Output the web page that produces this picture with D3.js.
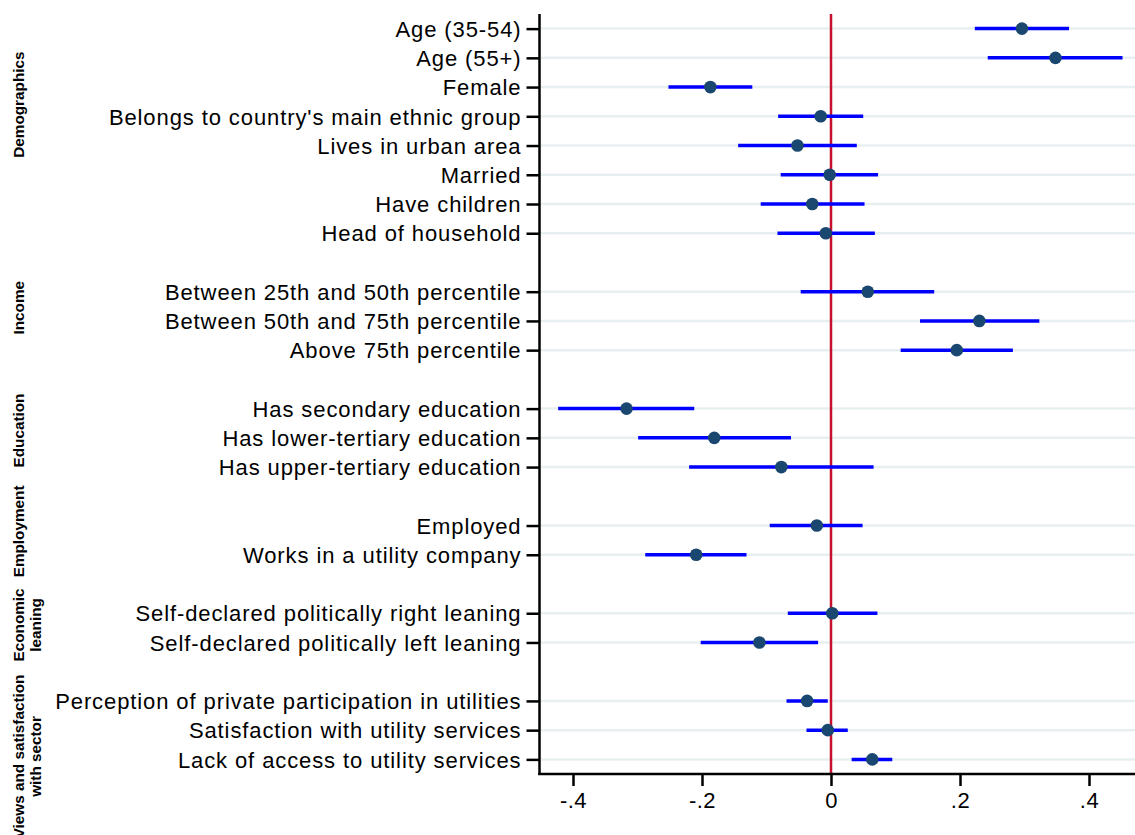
<!DOCTYPE html>
<html>
<head>
<meta charset="utf-8">
<script src="https://cdn.jsdelivr.net/npm/d3@7"></script>
<style>
  html, body { margin: 0; padding: 0; background: #ffffff; }
  svg { display: block; }
  text { font-family: "Liberation Sans", Arial, sans-serif; fill: #000; }
</style>
</head>
<body>
<svg id="chart" width="1135" height="835"></svg>
<script>
// Coefficient labels, top to bottom
const labels = [
  "Age (35-54)",
  "Age (55+)",
  "Female",
  "Belongs to country's main ethnic group",
  "Lives in urban area",
  "Married",
  "Have children",
  "Head of household",
  "Between 25th and 50th percentile",
  "Between 50th and 75th percentile",
  "Above 75th percentile",
  "Has secondary education",
  "Has lower-tertiary education",
  "Has upper-tertiary education",
  "Employed",
  "Works in a utility company",
  "Self-declared politically right leaning",
  "Self-declared politically left leaning",
  "Perception of private participation in utilities",
  "Satisfaction with utility services",
  "Lack of access to utility services"
];

// Point estimates and confidence bounds
const coef = [0.296, 0.348, -0.187, -0.016, -0.052, -0.002, -0.029, -0.008,
              0.057, 0.230, 0.195, -0.317, -0.181, -0.077, -0.022, -0.209,
              0.002, -0.111, -0.037, -0.005, 0.064];
const lower = [0.223, 0.243, -0.252, -0.082, -0.144, -0.078, -0.109, -0.083,
               -0.047, 0.138, 0.108, -0.423, -0.299, -0.220, -0.095, -0.288,
               -0.067, -0.202, -0.069, -0.038, 0.032];
const upper = [0.369, 0.452, -0.122, 0.050, 0.040, 0.073, 0.052, 0.068,
               0.160, 0.323, 0.282, -0.212, -0.062, 0.066, 0.049, -0.131,
               0.072, -0.020, -0.005, 0.026, 0.095];

// Variable groups (names split into display lines) and their sizes
const groupNames = [
  ["Demographics"],
  ["Income"],
  ["Education"],
  ["Employment"],
  ["Economic", "leaning"],
  ["Views and satisfaction", "with sector"]
];
const groupSizes = [8, 3, 3, 2, 2, 3];

// Axis ticks
const xTicks = [-0.4, -0.2, 0, 0.2, 0.4];
const xTickLabels = ["-.4", "-.2", "0", ".2", ".4"];

// ---- layout ----
const W = 1135, H = 835;
const plotLeft = 539.5, plotRight = 1135, plotTop = 14, plotBottom = 774;

// slot index for each coefficient: groups separated by one empty slot
const slots = [];
let s = 0;
groupSizes.forEach(n => {
  for (let i = 0; i < n; i++) slots.push(s++);
  s++; // gap between groups
});
const nSlots = s - 1;

const x = d3.scaleLinear().domain([-0.4, 0.4]).range([573, 1089]);
const y = d3.scaleLinear().domain([-0.5, nSlots - 0.5]).range([plotTop, plotBottom]);

const svg = d3.select("#chart");

// horizontal grid lines at each coefficient
svg.append("g").selectAll("line").data(slots).join("line")
  .attr("x1", plotLeft).attr("x2", plotRight)
  .attr("y1", d => y(d)).attr("y2", d => y(d))
  .attr("stroke", "#e8eff0").attr("stroke-width", 2.5);

// reference line at zero
svg.append("line")
  .attr("x1", x(0)).attr("x2", x(0))
  .attr("y1", plotTop).attr("y2", plotBottom)
  .attr("stroke", "#c8102e").attr("stroke-width", 2.5);

// confidence intervals
svg.append("g").selectAll("line").data(coef).join("line")
  .attr("x1", (d, i) => x(lower[i])).attr("x2", (d, i) => x(upper[i]))
  .attr("y1", (d, i) => y(slots[i])).attr("y2", (d, i) => y(slots[i]))
  .attr("stroke", "#0000ff").attr("stroke-width", 3.5);

// point estimates
svg.append("g").selectAll("circle").data(coef).join("circle")
  .attr("cx", d => x(d)).attr("cy", (d, i) => y(slots[i]))
  .attr("r", 6.3).attr("fill", "#1a476f");

// y axis
const yAxis = d3.axisLeft(y)
  .tickValues(slots)
  .tickFormat(d => labels[slots.indexOf(d)])
  .tickSize(13).tickPadding(5);
const gy = svg.append("g").attr("transform", `translate(${plotLeft},0)`).call(yAxis);
gy.select(".domain").attr("d", `M0,${plotTop}V${plotBottom + 1}`).attr("stroke", "#000").attr("stroke-width", 2.5);
gy.selectAll(".tick line").attr("stroke", "#000").attr("stroke-width", 2.5);
gy.selectAll(".tick text")
  .attr("font-size", 22).attr("letter-spacing", 0.9)
  .attr("font-family", "Liberation Sans, Arial, sans-serif")
  .attr("fill", "#000").attr("dy", "0.35em");

// x axis
const xAxis = d3.axisBottom(x)
  .tickValues(xTicks)
  .tickFormat((d, i) => xTickLabels[i])
  .tickSize(12).tickPadding(6);
const gx = svg.append("g").attr("transform", `translate(0,${plotBottom})`).call(xAxis);
gx.select(".domain").attr("d", `M${plotLeft - 1.25},0H${plotRight}`).attr("stroke", "#000").attr("stroke-width", 2.5);
gx.selectAll(".tick line").attr("stroke", "#000").attr("stroke-width", 2.5);
gx.selectAll(".tick text")
  .attr("font-size", 22).attr("letter-spacing", 0.5)
  .attr("font-family", "Liberation Sans, Arial, sans-serif")
  .attr("fill", "#000");

// group labels, rotated along the left margin
const groupCenters = [2.6, 9.55, 13.75, 17.2, 20.4, 24.9];
const lineGap = 17;
groupNames.forEach((lines, g) => {
  const cy = y(groupCenters[g]);
  const t = svg.append("text")
    .attr("transform", `translate(24,${cy}) rotate(-90)`)
    .attr("text-anchor", "middle")
    .attr("font-size", 15.3)
    .attr("font-weight", "bold");
  lines.forEach((ln, k) => {
    t.append("tspan").attr("x", 0).attr("y", k * lineGap).text(ln);
  });
});
</script>
</body>
</html>
